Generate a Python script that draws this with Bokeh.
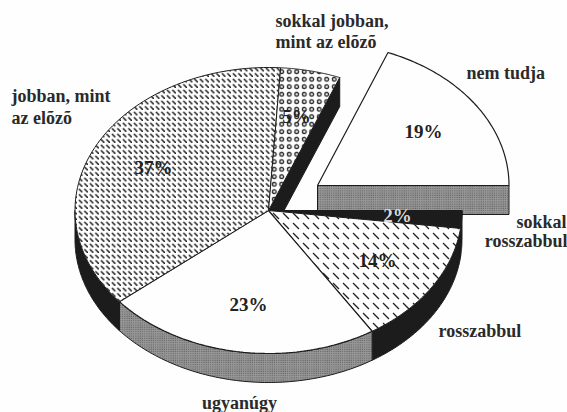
import numpy as np
from bokeh.plotting import figure
from bokeh.models import Range1d
from bokeh.core.properties import value
from bokeh.embed import file_html
from bokeh.resources import INLINE

# chart data, clockwise from the 3 o'clock position
categories = ["sokkal rosszabbul", "rosszabbul", "ugyanúgy", "jobban, mint az elõzõ", "sokkal jobban, mint az elõzõ", "nem tudja"]
values = [2, 14, 23, 37, 5, 19]
value_labels = ["2%", "14%", "23%", "37%", "5%", "19%"]

label_lines = ["sokkal jobban,", "mint az elõzõ", "nem tudja", "jobban, mint", "az elõzõ", "sokkal", "rosszabbul", "rosszabbul", "ugyanúgy"]
label_x = [275, 275, 466, 11, 11, 566, 567, 438, 239]
label_y = [20, 41, 72, 95, 117, 221, 240, 330, 402]
label_align = ["left", "left", "left", "left", "left", "right", "right", "left", "center"]

value_x = [397, 377, 248, 153, 296, 423]
value_y = [215, 260, 304, 167, 116, 131]
value_color = ["#d8d8d8", "#222222", "#222222", "#222222", "#222222", "#222222"]

CX, CY, RX, RY, DEPTH = 268, 210, 193.5, 143, 29
EXPLODE_DX, EXPLODE_DY, EXPLODE_RX = 49, -25, 191.5

INK = "#1c1c1c"
GREY = "#979797"
BG = "#fefefe"

p = figure(width=567, height=412, output_backend="svg", toolbar_location=None,
           x_range=Range1d(0, 567), y_range=Range1d(412, 0),
           min_border=0, outline_line_color=None, background_fill_color=BG,
           border_fill_color=BG)
p.axis.visible = False
p.grid.visible = False
p.styles = {"position": "absolute", "left": "0px", "top": "0px"}

edges = np.cumsum([0] + values) * 3.6


def arc(a0, a1, dx=0, dy=0, rx=RX):
    t = np.radians(np.linspace(a0, a1, 80))
    return CX + dx + rx * np.cos(t), CY + dy + RY * np.sin(t)


def top_face(a0, a1, dx=0, dy=0, rx=RX):
    x, y = arc(a0, a1, dx, dy, rx)
    return np.r_[CX + dx, x], np.r_[CY + dy, y]


def wall(a0, a1):
    x, y = arc(a0, a1)
    return np.r_[x, x[::-1]], np.r_[y, y[::-1] + DEPTH]


def radial(a):
    t = np.radians(a)
    ex, ey = CX + RX * np.cos(t), CY + RY * np.sin(t)
    return [CX, ex, ex, CX], [CY, ey, ey + DEPTH, CY + DEPTH]


GREY_STYLE = dict(fill_color=GREY, hatch_pattern="dot", hatch_color="#505050",
                  hatch_scale=2.2, line_color=INK, line_width=1)

# exploded slice: cut face, then top
ex = CX + EXPLODE_DX
ey = CY + EXPLODE_DY
p.patch([ex, ex + EXPLODE_RX, ex + EXPLODE_RX, ex], [ey, ey, ey + DEPTH, ey + DEPTH], **GREY_STYLE)
x, y = top_face(edges[5], 360, EXPLODE_DX, EXPLODE_DY, EXPLODE_RX)
p.patch(x, y, fill_color=BG, line_color=INK, line_width=1.2)

# cut face of the 5% slice
x, y = radial(edges[5])
p.patch(x, y, fill_color=INK, line_color=INK)

# outer walls
for i in range(4):
    x, y = wall(edges[i], min(edges[i + 1], 180))
    if i == 2:
        p.patch(x, y, **GREY_STYLE)
    else:
        p.patch(x, y, fill_color=INK, line_color=INK, line_width=1)

# top faces
x, y = top_face(edges[0], edges[1])
p.patch(x, y, fill_color=INK, line_color=INK, line_width=1)

x, y = top_face(edges[1], edges[2])
p.patch(x, y, fill_color=BG, line_color=INK, line_width=1,
        hatch_pattern="left_diagonal_dash", hatch_color="#222222", hatch_scale=10, hatch_weight=1.3)

x, y = top_face(edges[2], edges[3])
p.patch(x, y, fill_color=BG, line_color=INK, line_width=1.2)

x, y = top_face(edges[3], edges[4])
p.patch(x, y, fill_color=BG, line_color=INK, line_width=1,
        hatch_pattern="left_diagonal_dash", hatch_color="#222222", hatch_scale=5.5, hatch_weight=1.5)

x, y = top_face(edges[4], edges[5])
p.patch(x, y, fill_color=BG, line_color=INK, line_width=1,
        hatch_pattern="ring", hatch_color="#222222", hatch_scale=7.5, hatch_weight=1.3)

FONT = value("Liberation Serif")
p.text(label_x, label_y, text=label_lines, text_font=FONT, text_font_style="bold",
       text_font_size="18px", text_color="#2a2a2a", text_baseline="middle",
       text_align=label_align)
p.text(value_x, value_y, text=value_labels, text_font=FONT, text_font_style="bold",
       text_font_size="19px", text_color=value_color, text_baseline="middle",
       text_align="center")

open("out.html", "w").write(file_html(p, INLINE))
